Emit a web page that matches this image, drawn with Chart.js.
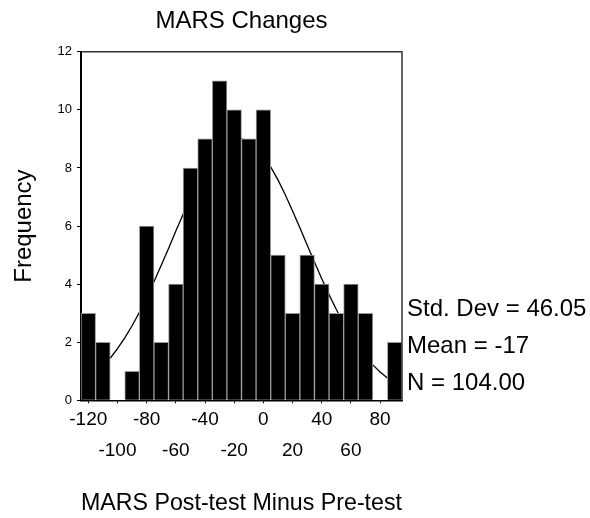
<!DOCTYPE html>
<html>
<head>
<meta charset="utf-8">
<title>MARS Changes</title>
<script src="https://cdn.jsdelivr.net/npm/chart.js@4.4.1/dist/chart.umd.min.js"></script>
<style>
  html, body { margin: 0; padding: 0; background: #fff; }
  #wrap { width: 590px; height: 518px; }
</style>
</head>
<body>
<div id="wrap"><canvas id="myChart" width="590" height="518"></canvas></div>
<script>
// histogram bins (centre of each 10-point bin) and counts
const binCentres = [-120, -110, -100, -90, -80, -70, -60, -50, -40, -30, -20, -10,
  0, 10, 20, 30, 40, 50, 60, 70, 80, 90];
const counts = [3, 2, 0, 1, 6, 2, 4, 8, 9, 11, 10, 9, 10, 5, 3, 5, 4, 3, 4, 3, 0, 2];

// fitted normal curve, read at 5-point steps
const curveX = [-105, -100, -95, -90, -85, -80, -75, -70, -65, -60, -55, -50, -45, -40,
  -35, -30, -25, -20, -15, -10, -5, 0, 5, 10, 15, 20, 25, 30, 35, 40, 45, 50, 55, 60,
  65, 70, 75, 80, 85];
const curveY = [1.45, 1.78, 2.15, 2.57, 3.03, 3.53, 4.08, 4.65, 5.23, 5.83, 6.41, 6.97,
  7.49, 7.95, 8.35, 8.66, 8.87, 8.99, 9.00, 8.91, 8.71, 8.42, 8.04, 7.59, 7.08, 6.52,
  5.94, 5.35, 4.76, 4.19, 3.64, 3.13, 2.65, 2.23, 1.85, 1.51, 1.22, 0.98, 0.77];

const xTicks = [-120, -100, -80, -60, -40, -20, 0, 20, 40, 60, 80];
const yTicks = [0, 2, 4, 6, 8, 10, 12];
const stats = ['Std. Dev = 46.05', 'Mean = -17', 'N = 104.00'];

const FONT = '"Liberation Sans", Arial, sans-serif';

const boxAndStats = {
  id: 'boxAndStats',
  afterDatasetsDraw(chart) {
    const a = chart.chartArea;
    const ctx = chart.ctx;
    ctx.save();
    ctx.strokeStyle = '#333';
    ctx.lineWidth = 1.5;
    ctx.beginPath();
    ctx.moveTo(a.left, a.top);
    ctx.lineTo(a.right, a.top);
    ctx.lineTo(a.right, a.bottom);
    ctx.stroke();
    ctx.restore();
  },
  afterDraw(chart) {
    const a = chart.chartArea;
    const ctx = chart.ctx;
    ctx.save();
    ctx.fillStyle = '#000';
    ctx.font = '24px ' + FONT;
    ctx.textBaseline = 'alphabetic';
    ctx.textAlign = 'left';
    stats.forEach((s, i) => {
      ctx.fillText(s, a.right + 5, 316 + i * 37);
    });
    ctx.restore();
  }
};

const data = {
  datasets: [
    {
      type: 'line',
      data: curveX.map((x, i) => ({ x: x, y: curveY[i] })),
      borderColor: '#000',
      borderWidth: 1.3,
      pointRadius: 0,
      tension: 0,
      fill: false,
      order: 2
    },
    {
      type: 'bar',
      data: binCentres.map((x, i) => ({ x: x, y: counts[i] })),
      backgroundColor: '#000',
      borderColor: '#999',
      borderWidth: 1,
      barPercentage: 1,
      categoryPercentage: 1,
      order: 1
    }
  ]
};

const config = {
  type: 'bar',
  data: data,
  options: {
    responsive: false,
    animation: false,
    layout: { padding: { left: 0, right: 188, top: 0, bottom: 0 } },
    plugins: {
      legend: { display: false },
      tooltip: { enabled: false },
      title: {
        display: true,
        text: 'MARS Changes',
        fullSize: false,
        color: '#000',
        font: { family: FONT, size: 24, weight: 'normal', lineHeight: 1.2 },
        padding: { top: 7, bottom: 16 }
      }
    },
    scales: {
      x: {
        type: 'linear',
        min: -125,
        max: 95,
        offset: false,
        afterBuildTicks(scale) {
          scale.ticks = xTicks.map(v => ({ value: v }));
        },
        grid: {
          offset: false,
          drawOnChartArea: false,
          drawTicks: true,
          tickLength: 3,
          color: '#000'
        },
        border: { color: '#000', width: 1.5 },
        ticks: {
          autoSkip: false,
          maxRotation: 0,
          padding: 0,
          color: '#000',
          font: { family: FONT, size: 19, lineHeight: 1.68 },
          // alternate labels drop to a second row
          callback: (v, i) => (i % 2 === 0 ? String(v) : ['', String(v)])
        },
        title: {
          display: true,
          text: 'MARS Post-test Minus Pre-test',
          color: '#000',
          font: { family: FONT, size: 24, lineHeight: 1.2 },
          padding: { top: 22, bottom: 0 }
        }
      },
      y: {
        min: 0,
        max: 12,
        afterBuildTicks(scale) {
          scale.ticks = yTicks.map(v => ({ value: v }));
        },
        afterFit(scale) {
          scale.width = 81;
        },
        grid: {
          drawOnChartArea: false,
          drawTicks: true,
          tickLength: 4,
          color: '#000'
        },
        border: { color: '#000', width: 2 },
        ticks: {
          padding: 5,
          color: '#000',
          font: { family: FONT, size: 13 }
        },
        title: {
          display: true,
          text: 'Frequency',
          color: '#000',
          font: { family: FONT, size: 24, lineHeight: 1.2 },
          padding: { top: 10, bottom: 0 }
        }
      }
    }
  },
  plugins: [boxAndStats]
};

const myChart = new Chart(
  document.getElementById('myChart'),
  config
);
</script>
</body>
</html>
